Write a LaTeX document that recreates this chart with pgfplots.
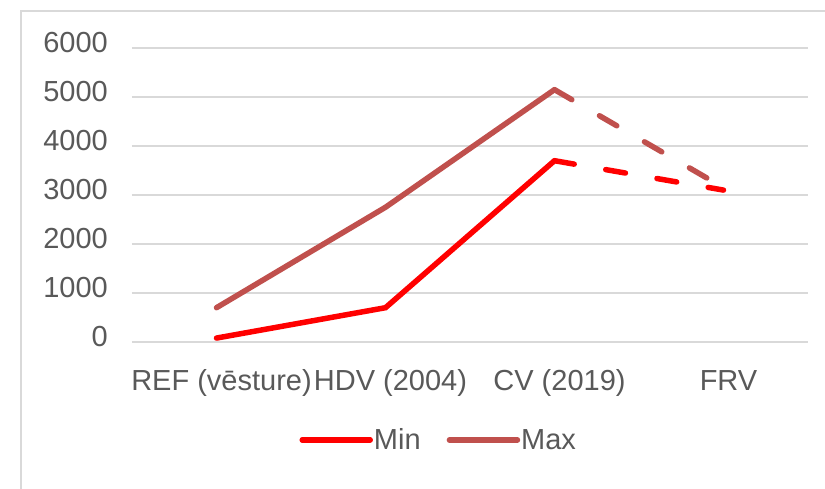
\documentclass[border=0pt]{standalone}
\usepackage{fontspec}
\setmainfont{Liberation Sans}
\usepackage{pgfplots}
\pgfplotsset{compat=1.18}
\definecolor{minred}{HTML}{FF0000}
\definecolor{maxred}{HTML}{C0504D}
\definecolor{gridgray}{HTML}{D9D9D9}
\definecolor{txtgray}{HTML}{595959}
\begin{document}
\begin{tikzpicture}
\useasboundingbox (0pt,0pt) rectangle (825pt,489pt);
\draw[gridgray, line width=2pt] (21pt,0pt) -- (21pt,478pt) -- (825pt,478pt);
\begin{axis}[
  at={(132pt,147pt)}, anchor=south west,
  scale only axis, width=676pt, height=294pt,
  xmin=-0.5, xmax=3.5, ymin=0, ymax=6000,
  axis line style={draw=none},
  major tick length=0pt,
  xtick={0,1,2,3},
  xticklabels={REF (vēsture),HDV (2004),CV (2019),FRV},
  ytick={0,1000,...,6000},
  scaled y ticks=false,
  ymajorgrids, grid style={gridgray, line width=2pt},
  tick label style={font=\fontsize{29}{34}\selectfont, text=txtgray},
  /pgf/number format/assume math mode=true,
  /pgf/number format/1000 sep={},
  xticklabel style={anchor=base, inner sep=0pt, yshift=-49pt, xshift=5pt},
  yticklabel style={anchor=east, inner sep=0pt, xshift=-24pt, yshift=5pt},
  clip=false,
  legend columns=2,
  legend style={at={(0.453,-0.333)}, anchor=center, draw=none, fill=none,
    font=\fontsize{29}{34}\selectfont, text=txtgray, inner sep=0pt,
    nodes={inner sep=1pt},
    /tikz/every even column/.append style={column sep=25pt}},
  legend image code/.code={\draw[#1, line cap=round] (0pt,0pt) -- (68pt,0pt);},
]
\addplot[minred, line width=5.5pt, line cap=round, line join=miter] coordinates {(0,80) (1,700) (2,3700)};
\addlegendentry{Min}
\addplot[maxred, line width=5.5pt, line cap=round, line join=miter] coordinates {(0,700) (1,2750) (2,5150)};
\addlegendentry{Max}
\addplot[maxred, line width=5.5pt, line cap=round, dash pattern=on 20pt off 32pt, forget plot] coordinates {(2,5150) (3,3150)};
\addplot[minred, line width=5.5pt, line cap=round, dash pattern=on 20pt off 32pt, forget plot] coordinates {(2,3700) (3,3100)};
\end{axis}
\end{tikzpicture}
\end{document}
